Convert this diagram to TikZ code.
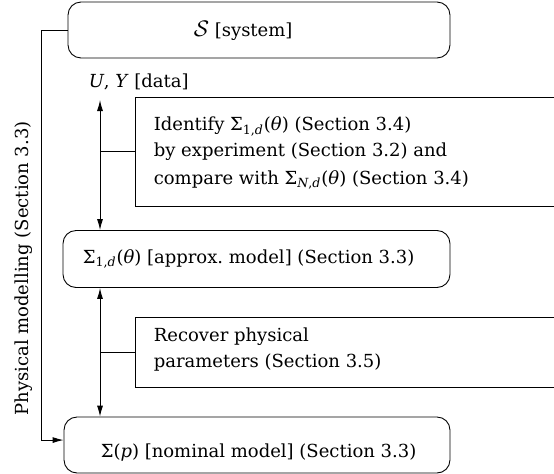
\documentclass[tikz,border=0pt]{standalone}
\usepackage{fontspec}
\setmainfont{DejaVu Serif}
\usetikzlibrary{arrows.meta}
% model symbols set in the text font
\newcommand\modsym[1]{Σ\textsubscript{#1}(\textit{θ})}
\begin{document}
% one unit = 1pt overall; text is set at 10pt and enlarged by the picture scale
\begin{tikzpicture}[x=0.5556pt,y=-0.5556pt,scale=1.8,
  line width=0.9pt,
  rbox/.style={draw, rounded corners=13pt, inner sep=0pt},
  sbox/.style={draw, inner sep=0pt},
  txt/.style={inner sep=0pt, anchor=base west, transform shape,
    font=\fontsize{10}{14.4}\selectfont},
  blk/.style={txt, anchor=north west, align=left},
  tipend/.style={-{Latex[length=11pt,width=6pt]}},
  bothends/.style={{Latex[length=11pt,width=6pt]}-{Latex[length=11pt,width=6pt]}}]
\useasboundingbox (0,0) rectangle (554,474);
\clip (0,0) rectangle (554,474);

% model boxes
\node[rbox, minimum width=382pt, minimum height=56pt] (sys) at (259,30) {};
\node[txt] (systxt) at (193,36) {\scalebox{1.25}{$\mathcal{S}$} [system]};

\node[rbox, minimum width=387pt, minimum height=57pt] (appr) at (256.5,259) {};
\node[txt] (apprtxt) at (82,263) {\modsym{1,\textit{d}} [approx.\ model] (Section 3.3)};

\node[rbox, minimum width=386pt, minimum height=56pt] (nom) at (257,445) {};
\node[txt] (nomtxt) at (100,457) {Σ(\textit{p}) [nominal model] (Section 3.3)};

% data label
\node[txt] (data) at (88,87) {\textit{U}, \textit{Y} [data]};

% step boxes, open to the right
\node[sbox, minimum width=435pt, minimum height=109pt] (ident) at (352.5,151.5) {};
\node[blk] (identtxt) at (153,116) {Identify \modsym{1,\textit{d}} (Section 3.4)\\
  by experiment (Section 3.2) and\\[1pt]
  compare with \modsym{\textit{N},\textit{d}} (Section 3.4)};

\node[sbox, minimum width=435pt, minimum height=70pt] (recov) at (352.5,352) {};
\node[blk] (recovtxt) at (153,327) {Recover physical\\ parameters (Section 3.5)};

% physical modelling path
\node[txt, rotate=90, anchor=base] (phys) at (28.5,268.5) {Physical modelling (Section 3.3)};
\coordinate (lc) at (41,440);
\draw[tipend] (sys.west) -| (lc) -- (nom.west |- lc);

% identification and recovery arrows
\coordinate (dtip) at (100,100);
\draw[bothends] (dtip) -- (dtip |- appr.north);
\draw (ident.west) -- (ident.west -| dtip);
\draw[bothends] (appr.south -| dtip) -- (nom.north -| dtip);
\draw (recov.west) -- (recov.west -| dtip);
\end{tikzpicture}
\end{document}
